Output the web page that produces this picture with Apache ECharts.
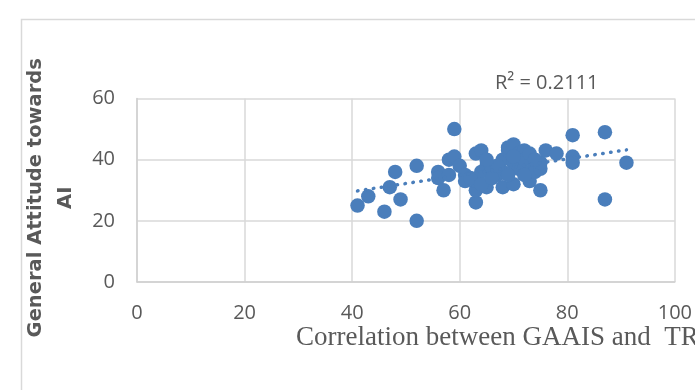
<!DOCTYPE html>
<html>
<head>
<meta charset="utf-8">
<script src="https://cdn.jsdelivr.net/npm/echarts@6/dist/echarts.min.js"></script>
<style>
  html, body { margin: 0; padding: 0; background: #fff; }
  #chart { width: 695px; height: 390px; }
</style>
</head>
<body>
<div id="chart"></div>
<script>
// scatter data
var xData = [41, 43, 46, 47, 48, 49, 52, 52, 56, 56, 57, 58, 59, 59, 60, 58, 61, 61, 63, 63,
  64, 63, 65, 63, 64, 65, 66, 67, 68, 68, 68, 69, 69, 70, 70, 70, 71, 71, 72, 72,
  73, 73, 73, 74, 74, 75, 75, 75, 76, 78, 81, 81, 81, 87, 87, 91, 62, 64, 66, 69,
  70, 72, 74, 67, 65];
var yData = [25, 28, 23, 31, 36, 27, 38, 20, 36, 34, 30, 40, 50, 41, 38, 35, 33, 35, 26, 42,
  43, 30, 31, 33, 36, 38, 37, 35, 31, 36, 40, 43, 44, 45, 32, 39, 37, 42, 43, 40,
  42, 33, 36, 38, 36, 30, 37, 39, 43, 42, 48, 41, 39, 49, 27, 39, 34, 32, 34, 35,
  41, 35, 40, 38, 40];
// linear trendline end points
var trendX = [41, 91];
var trendY = [29.8, 43.2];
var xTicks = { min: 0, max: 100, step: 20 };
var yTicks = { min: 0, max: 60, step: 20 };
var rSquared = 'R² = 0.2111';

var points = [];
for (var i = 0; i < xData.length; i++) {
  points.push([xData[i], yData[i]]);
}
var trend = [];
for (var j = 0; j < trendX.length; j++) {
  trend.push([trendX[j], trendY[j]]);
}

var myChart = echarts.init(document.getElementById('chart'));
var option = {
  animation: false,
  grid: { left: 137, right: 18, top: 98.5, bottom: 108 },
  graphic: [
    {
      type: 'rect',
      shape: { x: 21.5, y: 19.5, width: 720, height: 420 },
      style: { fill: 'none', stroke: '#d9d9d9', lineWidth: 1.5 },
      silent: true
    },
    {
      type: 'text',
      left: 296,
      top: 324,
      style: {
        text: 'Correlation between GAAIS and  TR',
        font: '27px "Liberation Serif"',
        fill: '#595959'
      }
    },
    {
      type: 'text',
      left: 495,
      top: 73,
      style: {
        text: rSquared,
        font: '20px "Open Sans"',
        fill: '#595959'
      }
    }
  ],
  xAxis: {
    type: 'value',
    min: xTicks.min,
    max: xTicks.max,
    interval: xTicks.step,
    axisLine: { show: true, lineStyle: { color: '#d0d0d0', width: 1.5 } },
    axisTick: { show: false },
    axisLabel: { color: '#595959', fontFamily: 'Open Sans', fontSize: 20, margin: 21 },
    splitLine: { show: true, lineStyle: { color: '#d9d9d9', width: 1.5 } }
  },
  yAxis: {
    type: 'value',
    min: yTicks.min,
    max: yTicks.max,
    interval: yTicks.step,
    name: 'General Attitude towards\nAI',
    nameLocation: 'middle',
    nameRotate: 90,
    nameGap: 39,
    nameTextStyle: {
      color: '#595959',
      fontFamily: 'DejaVu Sans',
      fontWeight: 'bold',
      fontSize: 19.5,
      lineHeight: 30,
      padding: [0, 15, 0, 0]
    },
    axisLine: { show: true, lineStyle: { color: '#d0d0d0', width: 1.5 } },
    axisTick: { show: false },
    axisLabel: { color: '#595959', fontFamily: 'Open Sans', fontSize: 20, margin: 22 },
    splitLine: { show: true, lineStyle: { color: '#d9d9d9', width: 1.5 } }
  },
  series: [
    {
      type: 'scatter',
      data: points,
      symbolSize: 14.5,
      itemStyle: { color: '#4a7ebb', opacity: 1 },
      z: 2
    },
    {
      type: 'line',
      data: trend,
      showSymbol: false,
      symbol: 'none',
      lineStyle: { color: '#4a7ebb', width: 3.5, type: [0.5, 7.5], cap: 'round' },
      z: 3
    }
  ]
};
myChart.setOption(option, (window.onresize = myChart.resize));
</script>
</body>
</html>
